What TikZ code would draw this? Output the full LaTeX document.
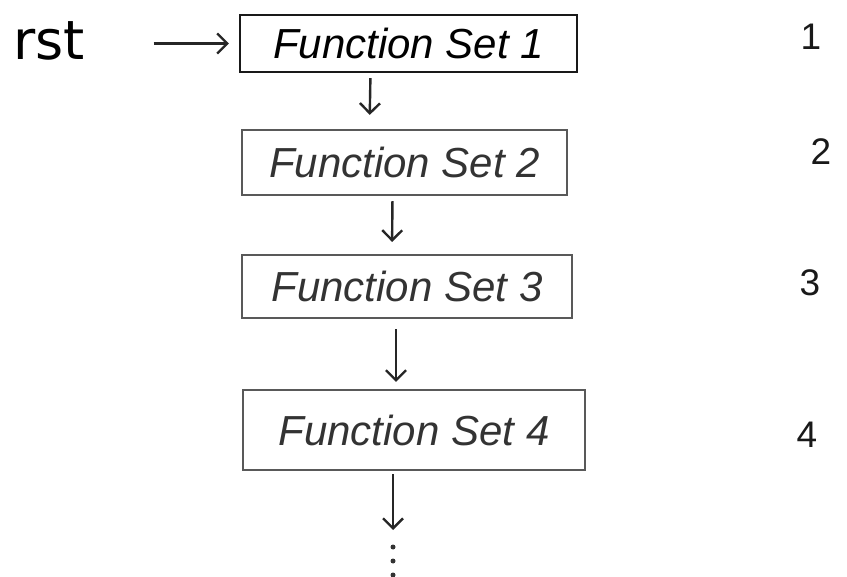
\documentclass[tikz,border=0pt]{standalone}
\usepackage{fontspec}
\setmainfont{Liberation Sans}
\newfontfamily\wide{DejaVu Sans}
\usetikzlibrary{arrows.meta}

\begin{document}
\begin{tikzpicture}[x=1pt,y=-1pt]
    \tikzset{fset/.style = {shape=rectangle, draw=black!65, line width=2.2pt, inner sep=0pt, text=black!80, font=\fontsize{42}{50}\selectfont\itshape}}
    \tikzset{edge/.style = {draw=black!85, line width=2.4pt, -{Straight Barb[length=10pt,width=20pt]}}}
    \tikzset{numlabel/.style = {text=black!90, font=\fontsize{37}{42}\selectfont}}

    \useasboundingbox (0,0) rectangle (847,577);

    % function sets
    \node[fset, draw=black!90, text=black, minimum width=337pt, minimum height=57pt] (b1) at (408.5,43.5) {Function Set 1};
    \node[fset, minimum width=325pt, minimum height=65pt] (b2) at (404.5,162.5) {Function Set 2};
    \node[fset, minimum width=330pt, minimum height=63pt] (b3) at (407,286.5) {Function Set 3};
    \node[fset, minimum width=342pt, minimum height=80pt] (b4) at (414,430) {Function Set 4};

    % reset input and step numbers
    \node[anchor=base west, font=\wide\fontsize{54}{60}\selectfont] (rst) at (10,60) {rst};
    \node[numlabel] (n1) at (811,37) {1};
    \node[numlabel] (n2) at (821,152) {2};
    \node[numlabel] (n3) at (810,283) {3};
    \node[numlabel] (n4) at (807,435) {4};

    % more sets below
    \coordinate (more) at (393,530);
    \foreach \y in {547,561,575}
        \fill[black!80] (393,\y) circle (2.5pt);

    % edges
    \draw[edge, shorten <=65pt, shorten >=10pt] (b1.west -| rst.east) -- (b1.west);
    \draw[edge, shorten <=5pt, shorten >=14pt] ([xshift=-38pt]b1.south) -- ([xshift=-35pt]b2.north);
    \draw[edge, shorten <=5pt, shorten >=12pt] ([xshift=-12pt]b2.south) -- ([xshift=-15pt]b3.north);
    \draw[edge, shorten <=10pt, shorten >=7pt] ([xshift=-11pt]b3.south) -- ([xshift=-18pt]b4.north);
    \draw[edge, shorten <=3pt] ([xshift=-21pt]b4.south) -- (more);
\end{tikzpicture}
\end{document}
